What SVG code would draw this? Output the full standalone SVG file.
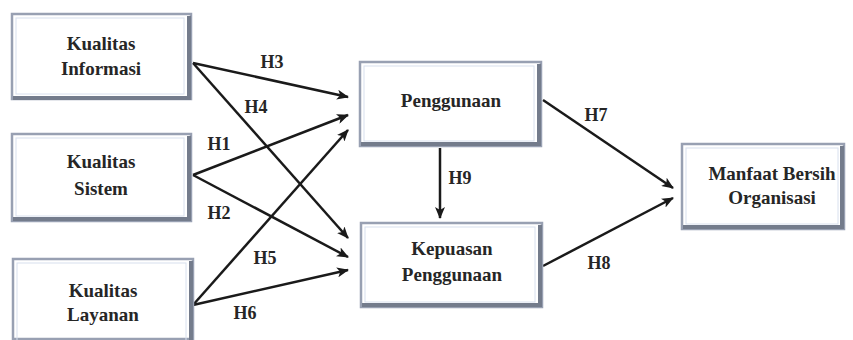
<svg xmlns="http://www.w3.org/2000/svg" width="853" height="340" viewBox="0 0 853 340">
<defs>
<marker id="ah" viewBox="0 0 12 10" refX="11" refY="5" markerWidth="12" markerHeight="10" markerUnits="userSpaceOnUse" orient="auto">
<path d="M0,0 L12,5 L0,10 L3,5 Z" fill="#1a1a1a"/>
</marker>
</defs>
<style>
.box{fill:#ffffff;stroke:#98a0b2;stroke-width:2.5}
.inner{fill:none;stroke:#d8e0ee;stroke-width:1}
.sh{fill:none;stroke:#747c8c;stroke-width:4}
.t{font-weight:bold;font-size:19px;fill:#262626;text-anchor:middle}
.h{font-weight:bold;font-size:18px;fill:#262626;text-anchor:middle}
.c{stroke:#1a1a1a;stroke-width:2.5;fill:none;marker-end:url(#ah)}
</style>
<rect width="853" height="340" fill="#ffffff"/>
<g font-family="Liberation Serif, Times New Roman, Tinos, Noto Serif, DejaVu Serif, serif">
<g id="connectors">
<line class="c" x1="193" y1="63" x2="348" y2="97"/>
<line class="c" x1="193" y1="63" x2="348" y2="238"/>
<line class="c" x1="193" y1="175" x2="348" y2="115"/>
<line class="c" x1="193" y1="175" x2="348" y2="257"/>
<line class="c" x1="193" y1="305" x2="348" y2="130"/>
<line class="c" x1="193" y1="305" x2="348" y2="270"/>
<line class="c" x1="440" y1="148" x2="440" y2="218"/>
<line class="c" x1="543" y1="100" x2="673" y2="188"/>
<line class="c" x1="543" y1="266" x2="673" y2="198"/>
<text class="h" x="272" y="68">H3</text>
<text class="h" x="256" y="113">H4</text>
<text class="h" x="219" y="150">H1</text>
<text class="h" x="219" y="219">H2</text>
<text class="h" x="265" y="264">H5</text>
<text class="h" x="245" y="319">H6</text>
<text class="h" x="460" y="184">H9</text>
<text class="h" x="596" y="121">H7</text>
<text class="h" x="599" y="269">H8</text>
</g>
<g id="kualitas-informasi">
<rect class="box" x="12" y="14" width="179" height="85"/>
<rect class="inner" x="16" y="18" width="168" height="76"/>
<path class="sh" d="M189,16 V98 H13"/>
<text class="t" x="101" y="50">Kualitas</text>
<text class="t" x="101" y="75">Informasi</text>
</g>
<g id="kualitas-sistem">
<rect class="box" x="12" y="134" width="179" height="87"/>
<rect class="inner" x="16" y="138" width="168" height="78"/>
<path class="sh" d="M189,136 V219 H13"/>
<text class="t" x="101" y="168">Kualitas</text>
<text class="t" x="101" y="195">Sistem</text>
</g>
<g id="kualitas-layanan">
<rect class="box" x="13" y="259" width="180" height="80"/>
<rect class="inner" x="17" y="263" width="169" height="80"/>
<path class="sh" d="M191,261 V340"/>
<text class="t" x="103" y="297">Kualitas</text>
<text class="t" x="103" y="321">Layanan</text>
</g>
<g id="penggunaan">
<rect class="box" x="360" y="62" width="181" height="84"/>
<rect class="inner" x="364" y="66" width="170" height="75"/>
<path class="sh" d="M539,64 V144 H361"/>
<text class="t" x="451" y="107">Penggunaan</text>
</g>
<g id="kepuasan-penggunaan">
<rect class="box" x="361" y="223" width="181" height="84"/>
<rect class="inner" x="365" y="227" width="170" height="75"/>
<path class="sh" d="M540,225 V305 H362"/>
<text class="t" x="452" y="255">Kepuasan</text>
<text class="t" x="452" y="281">Penggunaan</text>
</g>
<g id="manfaat-bersih-organisasi">
<rect class="box" x="682" y="144" width="162" height="85"/>
<rect class="inner" x="686" y="148" width="152" height="76"/>
<path class="sh" d="M842,146 V227 H683"/>
<text class="t" x="772" y="180">Manfaat Bersih</text>
<text class="t" x="772" y="204">Organisasi</text>
</g>
</g>
</svg>
